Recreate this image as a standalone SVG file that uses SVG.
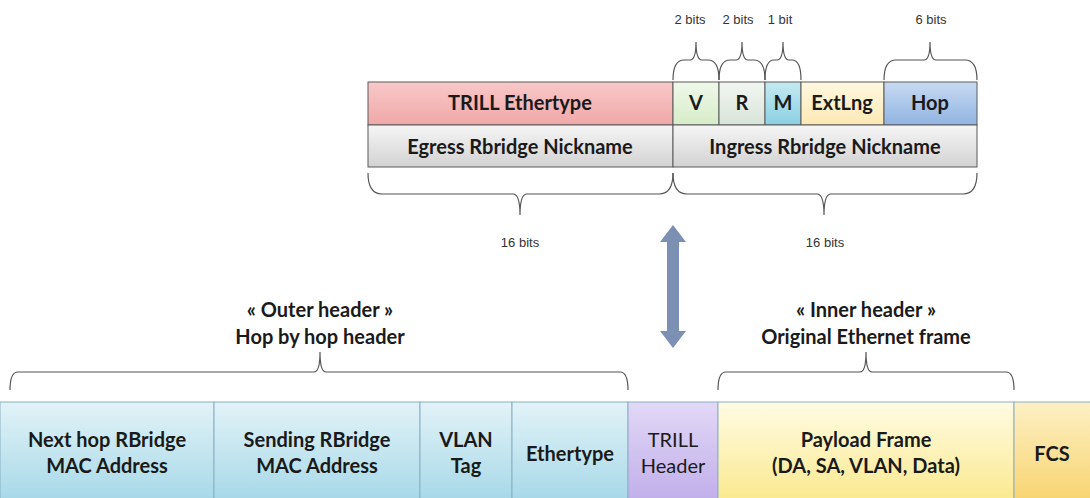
<svg xmlns="http://www.w3.org/2000/svg" width="1090" height="498" viewBox="0 0 1090 498">
<defs>
<style>
.cell{stroke:#5a5a5a;stroke-width:1}
.bcell{stroke:#8ab0c4;stroke-width:1}
.t{font-family:Lato,"Open Sans","Liberation Sans",sans-serif;font-weight:bold;font-size:20px;fill:#1a1a1a;text-anchor:middle}
.tn{font-family:Lato,"Open Sans","Liberation Sans",sans-serif;font-size:20px;fill:#1a1a1a;text-anchor:middle}
.s{font-family:"Liberation Sans",Arial,sans-serif;font-size:13px;fill:#333;text-anchor:middle}
.brace{fill:none;stroke:#555;stroke-width:1.2}
</style>
<linearGradient id="gPink" x1="0" y1="0" x2="0" y2="1"><stop offset="0" stop-color="#f8c8c8"/><stop offset="1" stop-color="#f0a8a8"/></linearGradient>
<linearGradient id="gV" x1="0" y1="0" x2="0" y2="1"><stop offset="0" stop-color="#f0f8ea"/><stop offset="1" stop-color="#d6ecc8"/></linearGradient>
<linearGradient id="gR" x1="0" y1="0" x2="0" y2="1"><stop offset="0" stop-color="#f2f6f2"/><stop offset="1" stop-color="#d8e4d8"/></linearGradient>
<linearGradient id="gM" x1="0" y1="0" x2="0" y2="1"><stop offset="0" stop-color="#c4eaf2"/><stop offset="1" stop-color="#8ad0e2"/></linearGradient>
<linearGradient id="gE" x1="0" y1="0" x2="0" y2="1"><stop offset="0" stop-color="#fff8e0"/><stop offset="1" stop-color="#fce8b4"/></linearGradient>
<linearGradient id="gH" x1="0" y1="0" x2="0" y2="1"><stop offset="0" stop-color="#c8daf2"/><stop offset="1" stop-color="#90b4e2"/></linearGradient>
<linearGradient id="gGray" x1="0" y1="0" x2="0" y2="1"><stop offset="0" stop-color="#f6f6f6"/><stop offset="1" stop-color="#d2d2d2"/></linearGradient>
<linearGradient id="gCyan" x1="0" y1="0" x2="0" y2="1"><stop offset="0" stop-color="#e2f3f8"/><stop offset="1" stop-color="#a6d8e8"/></linearGradient>
<linearGradient id="gLav" x1="0" y1="0" x2="0" y2="1"><stop offset="0" stop-color="#e2d8f6"/><stop offset="1" stop-color="#c0aeea"/></linearGradient>
<linearGradient id="gYel" x1="0" y1="0" x2="0" y2="1"><stop offset="0" stop-color="#fffbe4"/><stop offset="1" stop-color="#fbe98e"/></linearGradient>
<linearGradient id="gFcs" x1="0" y1="0" x2="0" y2="1"><stop offset="0" stop-color="#fdf0c4"/><stop offset="1" stop-color="#f8d470"/></linearGradient>
</defs>
<rect width="1090" height="498" fill="#ffffff"/>

<!-- TRILL header detail -->
<g id="trill-ethertype"><rect class="cell" x="368" y="82" width="305" height="43" fill="url(#gPink)"/><text class="t" x="520" y="110">TRILL Ethertype</text></g>
<g id="field-v"><rect class="cell" x="673" y="82" width="46" height="43" fill="url(#gV)"/><text class="t" x="696" y="110">V</text></g>
<g id="field-r"><rect class="cell" x="719" y="82" width="46" height="43" fill="url(#gR)"/><text class="t" x="742" y="110">R</text></g>
<g id="field-m"><rect class="cell" x="765" y="82" width="36" height="43" fill="url(#gM)"/><text class="t" x="783" y="110">M</text></g>
<g id="field-extlng"><rect class="cell" x="801" y="82" width="83" height="43" fill="url(#gE)"/><text class="t" x="842" y="110">ExtLng</text></g>
<g id="field-hop"><rect class="cell" x="884" y="82" width="93" height="43" fill="url(#gH)"/><text class="t" x="930" y="110">Hop</text></g>
<g id="egress"><rect class="cell" x="368" y="125" width="305" height="42" fill="url(#gGray)"/><text class="t" x="520" y="154">Egress Rbridge Nickname</text></g>
<g id="ingress"><rect class="cell" x="673" y="125" width="304" height="42" fill="url(#gGray)"/><text class="t" x="825" y="154">Ingress Rbridge Nickname</text></g>

<!-- bit labels -->
<g id="bit-labels">
<text class="s" x="690" y="24">2 bits</text>
<text class="s" x="738" y="24">2 bits</text>
<text class="s" x="780" y="24">1 bit</text>
<text class="s" x="931" y="24">6 bits</text>
<text class="s" x="520" y="247">16 bits</text>
<text class="s" x="825" y="247">16 bits</text>
</g>

<!-- bottom frame -->
<g id="next-hop"><rect class="bcell" x="0" y="402" width="214" height="100" fill="url(#gCyan)"/><text class="t" x="107" y="447">Next hop RBridge</text><text class="t" x="107" y="473">MAC Address</text></g>
<g id="sending"><rect class="bcell" x="214" y="402" width="206" height="100" fill="url(#gCyan)"/><text class="t" x="317" y="447">Sending RBridge</text><text class="t" x="317" y="473">MAC Address</text></g>
<g id="vlan"><rect class="bcell" x="420" y="402" width="92" height="100" fill="url(#gCyan)"/><text class="t" x="466" y="447">VLAN</text><text class="t" x="466" y="473">Tag</text></g>
<g id="ethertype"><rect class="bcell" x="512" y="402" width="116" height="100" fill="url(#gCyan)"/><text class="t" x="570" y="461">Ethertype</text></g>
<g id="trill-header"><rect class="bcell" x="628" y="402" width="90" height="100" fill="url(#gLav)"/><text class="tn" x="673" y="447">TRILL</text><text class="tn" x="673" y="473">Header</text></g>
<g id="payload"><rect class="bcell" x="718" y="402" width="296" height="100" fill="url(#gYel)"/><text class="t" x="866" y="447">Payload Frame</text><text class="t" x="866" y="473">(DA, SA, VLAN, Data)</text></g>
<g id="fcs"><rect class="bcell" x="1014" y="402" width="80" height="100" fill="url(#gFcs)"/><text class="t" x="1052" y="461">FCS</text></g>

<g id="outer-label"><text class="t" x="320" y="317">« Outer header »</text><text class="t" x="320" y="344">Hop by hop header</text></g>
<g id="inner-label"><text class="t" x="866" y="317">« Inner header »</text><text class="t" x="866" y="344">Original Ethernet frame</text></g>

<g id="connectors">
<!-- top braces (pointing up) -->
<path class="brace" d="M673,80 Q673,60 684,60 L690,60 Q696,60 696,42 Q696,60 702,60 L708,60 Q719,60 719,80"/>
<path class="brace" d="M719,80 Q719,60 730,60 L736,60 Q742,60 742,42 Q742,60 748,60 L754,60 Q765,60 765,80"/>
<path class="brace" d="M765,80 Q765,60 774,60 L777,60 Q783,60 783,42 Q783,60 789,60 L792,60 Q801,60 801,80"/>
<path class="brace" d="M884,80 Q884,60 896,60 L924,60 Q930,60 930,42 Q930,60 936,60 L965,60 Q977,60 977,80"/>
<!-- under-table braces (pointing down) -->
<path class="brace" d="M368,173 Q368,194 382,194 L513,194 Q520,194 520,215 Q520,194 527,194 L659,194 Q673,194 673,173"/>
<path class="brace" d="M673,173 Q673,194 687,194 L817,194 Q824,194 824,215 Q824,194 831,194 L963,194 Q977,194 977,173"/>
<!-- frame braces (pointing up) -->
<path class="brace" d="M10,390 Q10,372 18,372 L314,372 Q320,372 320,352 Q320,372 326,372 L620,372 Q628,372 628,390"/>
<path class="brace" d="M718,390 Q718,372 726,372 L860,372 Q866,372 866,352 Q866,372 872,372 L1006,372 Q1014,372 1014,390"/>
<!-- double arrow -->
<polygon points="673,225 686,242 679,242 679,331 686,331 673,348 660,331 667,331 667,242 660,242" fill="#7b90b3"/>
</g>
</svg>
